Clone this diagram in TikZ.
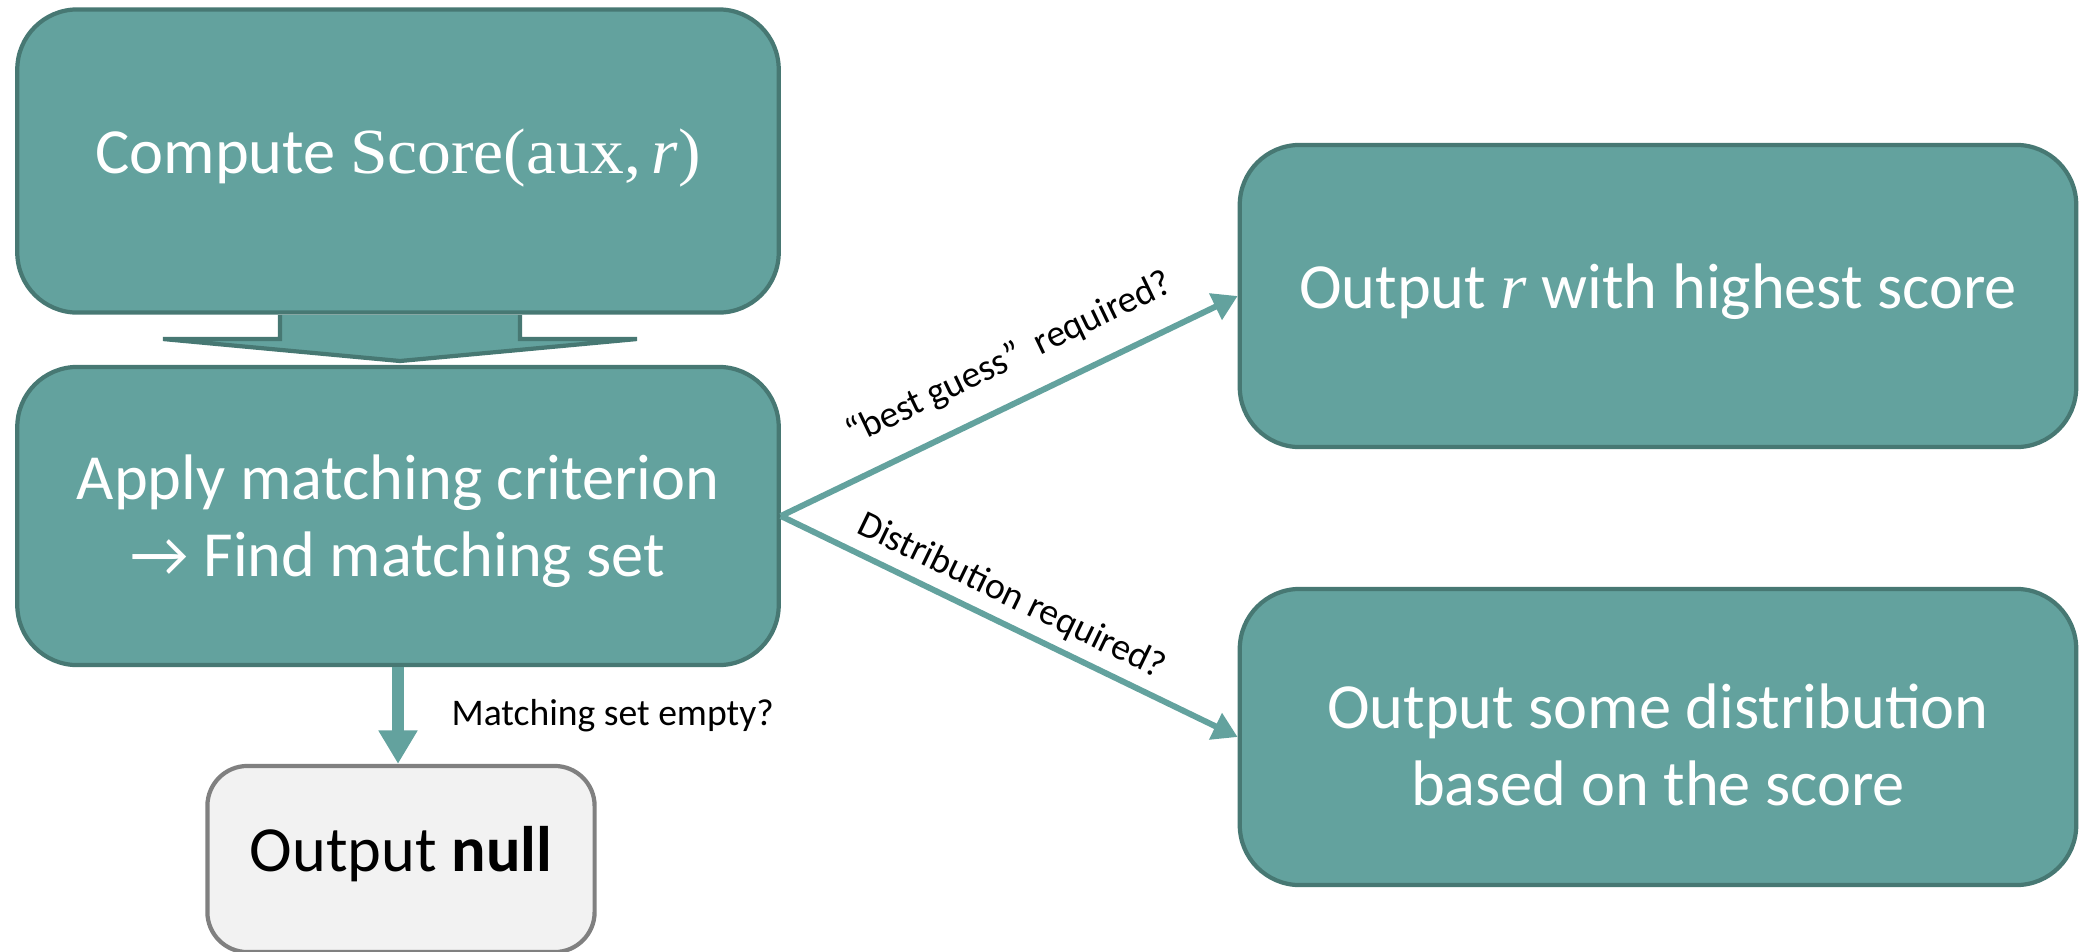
\documentclass[tikz,border=0pt]{standalone}
\usepackage{fontspec}
\setmainfont{Carlito}
\newfontfamily\mathlikefont[FakeStretch=1.05]{Liberation Serif}
\usetikzlibrary{arrows.meta}

\definecolor{tealfill}{HTML}{63A29E}
\definecolor{tealedge}{HTML}{477873}
\definecolor{nullfill}{HTML}{F2F2F2}
\definecolor{nulledge}{HTML}{808080}

\tikzset{
  procbox/.style={draw=tealedge, fill=tealfill, line width=1.2pt, rounded corners=0.6cm,
    text=white, align=center, inner sep=0pt, font=\fontsize{18.3}{22}\selectfont},
  oneline/.style={text height=0.95em, text depth=0.25em},
  nullbox/.style={draw=nulledge, fill=nullfill, line width=1.2pt, rounded corners=0.4cm,
    text=black, inner sep=0pt, font=\fontsize{18.3}{22}\selectfont},
  blockarrow/.style={draw=tealedge, fill=tealfill, line width=1.2pt, line join=miter},
  flowarrow/.style={draw=tealfill, line width=1.7pt, -{Triangle[length=7pt,width=8pt]}},
  downarrow/.style={draw=tealfill, line width=3.5pt, -{Triangle[length=9.5pt,width=10.5pt]}},
  condlabel/.style={text=black, inner sep=2pt, font=\fontsize{10.7}{12}\selectfont},
}

\begin{document}
\begin{tikzpicture}[x=0.01cm, y=-0.01cm]
  \useasboundingbox (0,0) rectangle (2082,951);%

  % Drawing the boxes
  \node[procbox, oneline, minimum width=7.61cm, minimum height=3.03cm] (score) at (398,161)
    {Compute {\mathlikefont Score(aux,\,\textit{r})}};%
  \node[procbox, minimum width=7.61cm, minimum height=2.98cm] (match) at (398,516)
    {\rule{0pt}{15.5pt}Apply matching criterion\\→ Find matching set};%
  \node[procbox, oneline, minimum width=8.36cm, minimum height=3.02cm] (best) at (1658,296)
    {Output {\mathlikefont\itshape r} with highest score};%
  \node[procbox, minimum width=8.36cm, minimum height=2.96cm] (distr) at (1658,737)
    {\rule{0pt}{17.3pt}Output some distribution\\based on the score};%
  \node[nullbox, oneline, minimum width=3.87cm, minimum height=1.86cm] (null) at (401,859)
    {Output \textbf{null}};%

  % Drawing the block arrow between the first two boxes
  \filldraw[blockarrow] (280,315) -- (280,339) -- (163,339) -- (400,361)
    -- (637,339) -- (520,339) -- (520,315);%

  % Drawing the decisions
  \draw[flowarrow] (match.east) -- node[condlabel, sloped, above=4.4pt, pos=0.54]
    {“best guess”\ \ required?} (best.west);%
  \draw[flowarrow] (match.east) -- node[condlabel, sloped, above=0.5pt, pos=0.478]
    {Distribution required?} (distr.west);%
  \draw[downarrow] (match.south) -- node[condlabel, right=11.5pt]
    {Matching set empty?} (match.south |- null.north);%
\end{tikzpicture}
\end{document}
